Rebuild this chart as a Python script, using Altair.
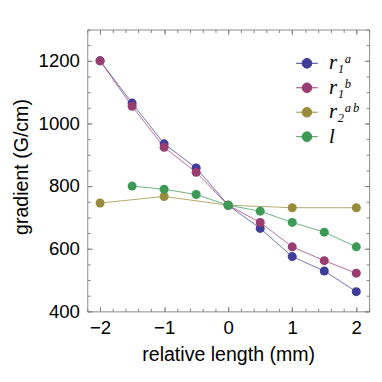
import altair as alt
import pandas as pd

# ---- data ----
x_half = [-2, -1.5, -1, -0.5, 0, 0.5, 1, 1.5, 2]
x_int = [-2, -1, 0, 1, 2]
x_l = [-1.5, -1, -0.5, 0, 0.5, 1, 1.5, 2]
r1a_vals = [1200, 1065, 935, 858, 739, 665, 575, 529, 463]
r1b_vals = [1200, 1055, 924, 844, 739, 684, 606, 562, 522]
r2ab_vals = [746, 767, 739, 731, 731]
l_vals = [800, 790, 773, 739, 720, 684, 653, 606]

series_labels = ["r\u2081\u1d43", "r\u2081\u1d47", "r\u2082\u1d43\u1d47", "l"]
colors = ["#3F3D99", "#993D71", "#998B3D", "#3D9956"]

x_major = [-2, -1, 0, 1, 2]
x_minor = [-2.2, -2.0, -1.8, -1.6, -1.4, -1.2, -1.0, -0.8, -0.6, -0.4, -0.2, 0.0,
           0.2, 0.4, 0.6, 0.8, 1.0, 1.2, 1.4, 1.6, 1.8, 2.0, 2.2]
y_major = [400, 600, 800, 1000, 1200]
y_minor = [400, 450, 500, 550, 600, 650, 700, 750, 800, 850, 900, 950, 1000,
           1050, 1100, 1150, 1200, 1250, 1300]

rows = []
for k, (xs, ys) in enumerate([(x_half, r1a_vals), (x_half, r1b_vals),
                              (x_int, r2ab_vals), (x_l, l_vals)]):
    for xv, yv in zip(xs, ys):
        rows.append({"x": xv, "y": yv, "series": series_labels[k], "k": k})
df = pd.DataFrame(rows)

xscale = alt.Scale(domain=[-2.2, 2.2], nice=False, zero=False)
yscale = alt.Scale(domain=[400, 1300], nice=False, zero=False)
cscale = alt.Scale(domain=series_labels, range=colors)

TICK = "#808080"
sym_path = ("M-1,0L1,0M0.45,0A0.45,0.45,0,1,1,-0.45,0"
            "A0.45,0.45,0,1,1,0.45,0Z")

legend = alt.Legend(
    title=None, orient="none", legendX=213, legendY=23, padding=0,
    symbolType=sym_path, symbolSize=484, symbolStrokeWidth=1,
    symbolOpacity=1,
    labelFont="Liberation Serif", labelFontStyle="italic", labelFontSize=21,
    labelColor="black", labelOffset=11, rowPadding=3,
)
color_enc = alt.Color("series:N", scale=cscale, legend=legend,
                      sort=series_labels)


def tick_axis(orient, values, size):
    return alt.Axis(orient=orient, values=values, labels=False, domain=False,
                    grid=False, ticks=True, tickSize=size, offset=-size,
                    tickColor=TICK, tickWidth=1, title=None)


base = alt.Chart(df)

lines = base.mark_line(strokeWidth=1, opacity=0.75).encode(
    x=alt.X("x:Q", scale=xscale, axis=alt.Axis(
        orient="bottom", values=x_major, ticks=False, domain=False, grid=False,
        labelFont="Liberation Sans", labelFontSize=19, labelColor="black",
        labelPadding=8, labelExpr="replace(datum.label, '-', '\u2212')",
        title="relative length (mm)", titleFont="Liberation Sans",
        titleFontSize=20, titleFontWeight="normal", titleColor="black",
        titleBaseline="alphabetic", titleY=50)),
    y=alt.Y("y:Q", scale=yscale, axis=alt.Axis(
        orient="left", values=y_major, ticks=False, domain=False, grid=False,
        format="d",
        labelFont="Liberation Sans", labelFontSize=19, labelColor="black",
        labelPadding=8, title="gradient (G/cm)", titleFont="Liberation Sans",
        titleFontSize=20, titleFontWeight="normal", titleColor="black",
        titleBaseline="alphabetic", titleX=-61, titleY=140)),
    color=color_enc,
    detail="k:N",
)

points = base.mark_circle(size=85, opacity=1).encode(
    x=alt.X("x:Q", scale=xscale, axis=tick_axis("bottom", x_major, 5)),
    y=alt.Y("y:Q", scale=yscale, axis=tick_axis("left", y_major, 5)),
    color=color_enc,
    order=alt.Order("k:Q"),
)

t_top_major = base.mark_point(opacity=0).encode(
    x=alt.X("x:Q", scale=xscale, axis=tick_axis("top", x_major, 5)),
    y=alt.Y("y:Q", scale=yscale, axis=tick_axis("right", y_major, 5)),
)
t_minor_bl = base.mark_point(opacity=0).encode(
    x=alt.X("x:Q", scale=xscale, axis=tick_axis("bottom", x_minor, 3)),
    y=alt.Y("y:Q", scale=yscale, axis=tick_axis("left", y_minor, 3)),
)
t_minor_tr = base.mark_point(opacity=0).encode(
    x=alt.X("x:Q", scale=xscale, axis=tick_axis("top", x_minor, 3)),
    y=alt.Y("y:Q", scale=yscale, axis=tick_axis("right", y_minor, 3)),
)

chart = alt.layer(lines, points, t_top_major, t_minor_bl, t_minor_tr).resolve_axis(
    x="independent", y="independent"
).properties(
    width=288, height=288,
    autosize=alt.AutoSizeParams(type="none"),
    padding={"left": 81, "top": 18, "right": 5, "bottom": 60},
    background="white",
).configure_view(stroke="#8a8a8a", strokeWidth=1).configure_axis(
    labelFontSize=19, labelFont="Liberation Sans"
)

chart.save("out.html", embed_options={"renderer": "svg", "actions": False})
